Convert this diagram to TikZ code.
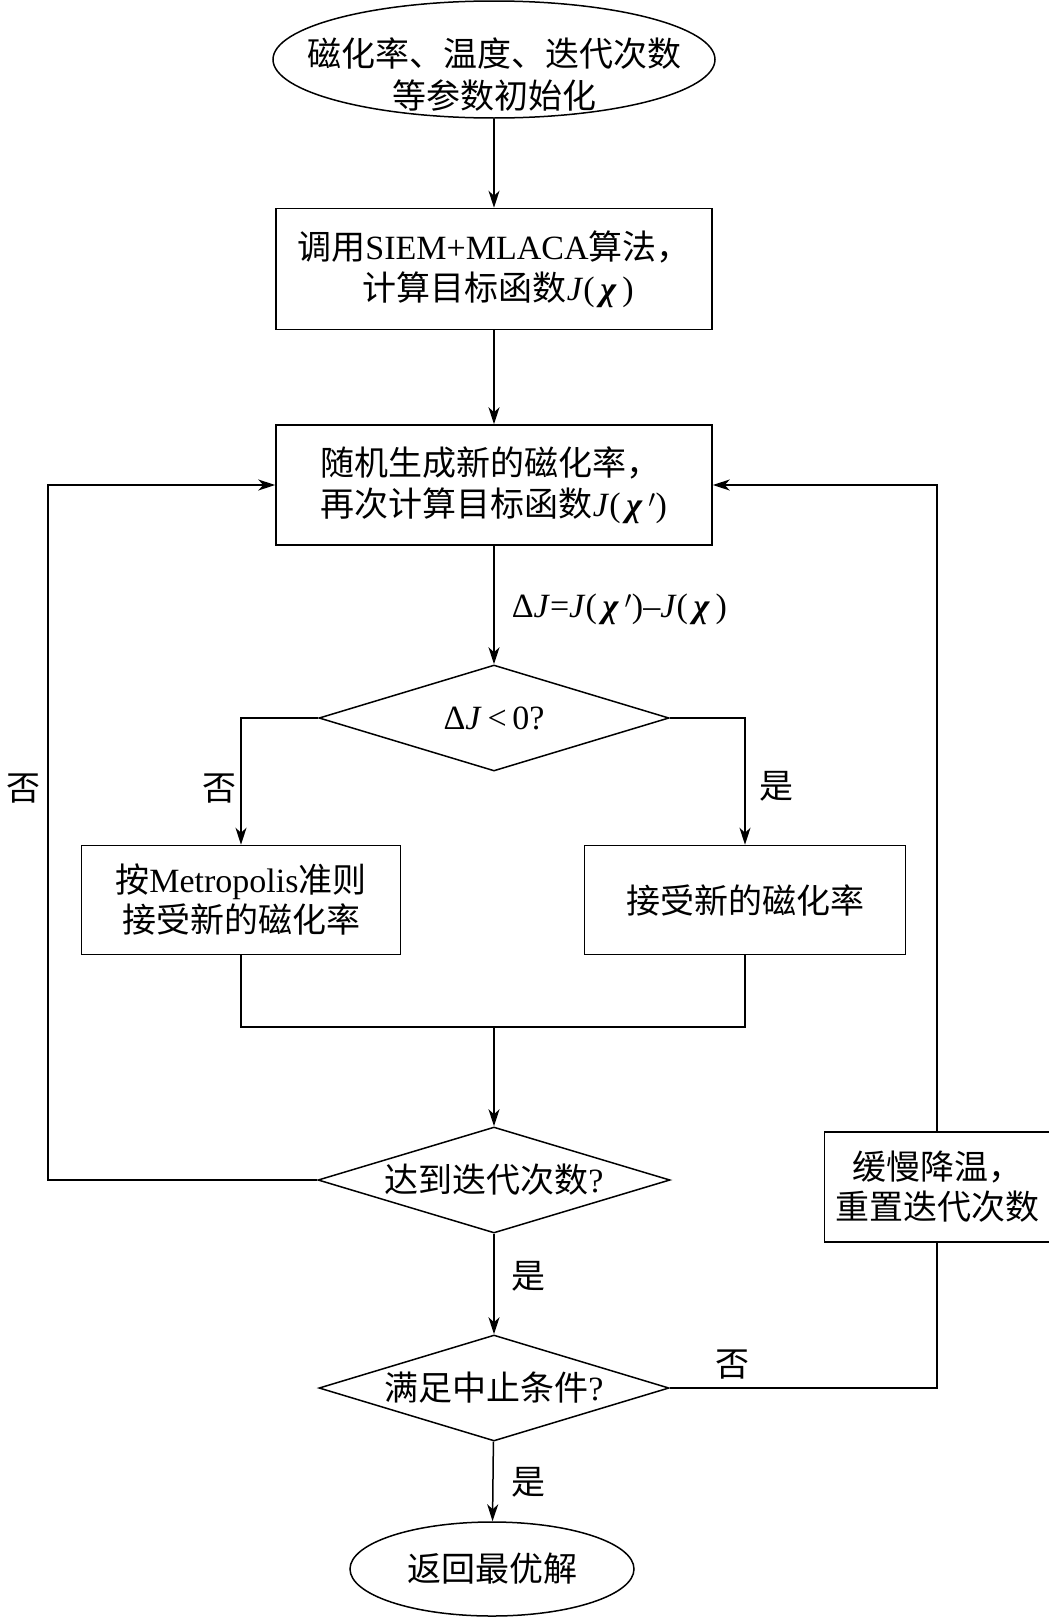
\documentclass[tikz,border=0pt]{standalone}
\usepackage{fontspec}
\setmainfont{Liberation Serif}
\newfontfamily\cjk{Noto Sans CJK SC}
\newcommand{\zh}[1]{{\cjk #1}}
\newcommand{\chib}{\,\textbf{\textit{χ}}\,}
\usetikzlibrary{shapes.geometric,arrows.meta}
\begin{document}
\begin{tikzpicture}[x=1pt,y=-1pt,line width=1.5pt,
  every node/.style={font=\fontsize{34}{40}\selectfont},
  box/.style={draw,rectangle,align=center,inner sep=0pt},
  dia/.style={draw,diamond,inner sep=0pt},
  ell/.style={draw,ellipse,inner sep=0pt},
  txt/.style={align=center,inner sep=0pt},
  lab/.style={inner sep=0pt},
  arr/.style={-{Stealth[length=17pt,width=11pt,inset=5pt]}}]
\useasboundingbox (0,0) rectangle (1049,1617);

\node[ell,minimum width=442pt,minimum height=117pt,
  label={[txt,yshift=-15pt,font=\fontsize{34}{42}\selectfont]center:{\zh{磁化率、温度、迭代次数}\\\zh{等参数初始化}}}] (start) at (494,59.5) {};
\node[box,minimum width=436pt,minimum height=121pt,font=\fontsize{34}{41}\selectfont] (calc) at (494,269)
  {\zh{调用}SIEM+MLACA\zh{算法，}\\\ \zh{计算目标函数}\textit{J}(\chib)};
\node[box,align=left,minimum width=436pt,minimum height=120pt,font=\fontsize{34}{41}\selectfont] (gen) at (494,485)
  {\zh{随机生成新的磁化率，}\\\zh{再次计算目标函数}\textit{J}(\chib$'$)};
\node[dia,minimum width=350pt,minimum height=106pt,
  label={[txt]center:{Δ\textit{J}\,<\,0?}}] (d1) at (494,718) {};
\node[box,minimum width=319pt,minimum height=109pt] (metro) at (241,900)
  {\zh{按}Metropolis\zh{准则}\\\zh{接受新的磁化率}};
\node[box,minimum width=321pt,minimum height=109pt] (accept) at (745,900)
  {\zh{接受新的磁化率}};
\coordinate (merge) at (494,1027);
\node[dia,minimum width=352pt,minimum height=106pt,
  label={[txt]center:{\zh{达到迭代次数}?}}] (d2) at (494,1180) {};
\node[dia,minimum width=350pt,minimum height=106pt,
  label={[txt]center:{\zh{满足中止条件}?}}] (d3) at (494,1388) {};
\node[ell,minimum width=284pt,minimum height=94pt,
  label={[txt]center:{\zh{返回最优解}}}] (end) at (492,1569) {};
\node[box,minimum width=225pt,minimum height=110pt] (slow) at (937,1187)
  {\zh{缓慢降温，}\\\zh{重置迭代次数}};
\coordinate (lc) at (48,1180);

% labels
\node[lab,anchor=west] (dj) at (511,609) {Δ\textit{J}=\textit{J}(\chib$'$)–\textit{J}(\chib)};
\node[lab] (no1) at (219,789) {\zh{否}};
\node[lab] (yes1) at (776,786) {\zh{是}};
\node[lab] (no2) at (23,789) {\zh{否}};
\node[lab] (yes2) at (528,1276) {\zh{是}};
\node[lab] (no3) at (732,1365) {\zh{否}};
\node[lab] (yes3) at (528,1482) {\zh{是}};

% connectors
\draw[arr] (start) -- (calc);
\draw[arr] (calc) -- (gen);
\draw[arr] (gen) -- (d1);
\draw[arr] (d1.west) -| (metro.north);
\draw[arr] (d1.east) -| (accept.north);
\draw (metro.south) |- (merge) -| (accept.south);
\draw[arr] (merge) -- (d2.north);
\draw[arr] (d2.west) -- (lc) |- (gen.west);
\draw[arr] (d2) -- (d3);
\draw (d3.east) -| (slow.south);
\draw[arr] (slow.north) |- (gen.east);
\draw[arr] (d3) -- (end);
\end{tikzpicture}
\end{document}
